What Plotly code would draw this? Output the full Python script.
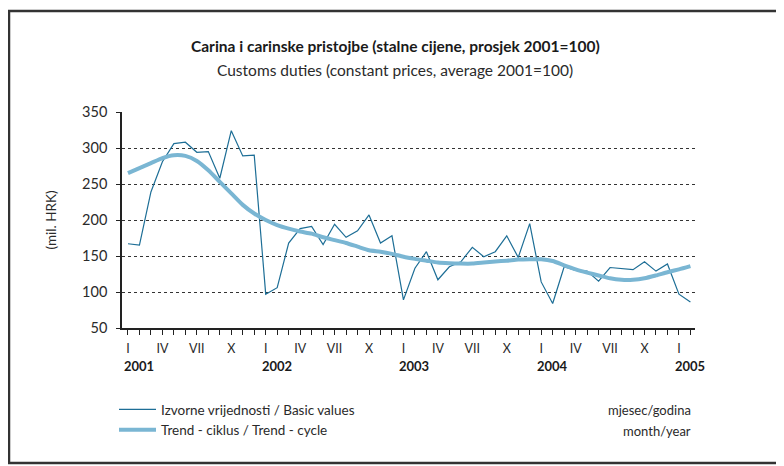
import plotly.graph_objects as go

# Months Jan 2001 .. Feb 2005 (50 points), index positions on x axis
basic_values = [
    167, 165, 239, 281, 306, 308, 294, 295, 258, 324, 289, 290,   # 2001
    97, 106, 168, 188, 191, 166, 194, 176, 185, 207, 168, 178,    # 2002
    89, 133, 156, 117, 135, 142, 162, 149, 156, 178, 148, 195,    # 2003
    114, 84, 135, 130, 129, 115, 134, 133, 131, 142, 129, 139,    # 2004
    97, 86,                                                        # 2005
]
trend_cycle = [
    265, 272, 279, 286, 290, 289, 282, 269, 253, 237, 221, 209,   # 2001
    200, 193, 188, 184, 181, 176, 172, 168, 163, 158, 156, 153,   # 2002
    149, 146, 143.5, 141, 140, 139.5, 139.5, 141, 142.5, 143.5, 145, 145.5,  # 2003
    145.5, 143, 137, 131.5, 127, 123, 119, 117, 117, 119, 123, 127.5,       # 2004
    131.5, 136,                                                    # 2005
]
month_labels = ["I", "", "", "IV", "", "", "VII", "", "", "X", "", ""]
year_labels = ["2001", "2002", "2003", "2004", "2005"]
y_ticks = [50, 100, 150, 200, 250, 300, 350]

n = len(basic_values)
x = list(range(n))
ticktext = [month_labels[i % 12] for i in range(n)]

FONT = "Lato, 'Open Sans', sans-serif"
TXT = "#2a2a2a"

fig = go.Figure()
fig.add_trace(go.Scatter(
    x=x, y=basic_values, mode="lines",
    name="Izvorne vrijednosti / Basic values",
    line=dict(color="#1d6e96", width=1.2),
))
fig.add_trace(go.Scatter(
    x=x, y=trend_cycle, mode="lines",
    name="Trend - ciklus / Trend - cycle",
    line=dict(color="#7ab6d3", width=4, shape="spline", smoothing=0.6),
))

# page body margin offsets the figure by 8px; work in window pixels
OFF = 8
W, H = 784 - OFF, 466 - OFF
L, R, T, B = 122, 695, 112, 328   # plot area in window pixels
pw, ph = R - L, B - T

def px_x(p):
    return (p - L) / pw

def px_y(p):
    return (B - p) / ph

annotations = [
    dict(text="<b>Carina i carinske pristojbe (stalne cijene, prosjek 2001=100)</b>",
         xref="paper", yref="paper", x=px_x(395), y=px_y(46), showarrow=False,
         xanchor="center", yanchor="middle",
         font=dict(size=15.5, color="#1a1a1a", family=FONT)),
    dict(text="Customs duties (constant prices, average 2001=100)",
         xref="paper", yref="paper", x=px_x(395), y=px_y(70), showarrow=False,
         xanchor="center", yanchor="middle",
         font=dict(size=15.5, color=TXT, family=FONT)),
    dict(text="mjesec/godina", xref="paper", yref="paper", x=px_x(693), y=px_y(410),
         xanchor="right", yanchor="middle", showarrow=False,
         font=dict(size=13, color=TXT, family=FONT)),
    dict(text="month/year", xref="paper", yref="paper", x=px_x(693), y=px_y(431),
         xanchor="right", yanchor="middle", showarrow=False,
         font=dict(size=13, color=TXT, family=FONT)),
]
for i, yl in enumerate(year_labels):
    annotations.append(dict(
        text="<b>" + yl + "</b>", xref="x", yref="paper", x=i * 12, y=px_y(366),
        xanchor="left", yanchor="middle", xshift=-6, showarrow=False,
        font=dict(size=13, color="#1a1a1a", family=FONT),
    ))

fig.update_layout(
    width=W, height=H,
    margin=dict(l=L - OFF, r=W - (R - OFF), t=T - OFF, b=H - (B - OFF), pad=0),
    paper_bgcolor="white", plot_bgcolor="white",
    font=dict(family=FONT, color=TXT),
    showlegend=True,
    legend=dict(x=px_x(114), y=px_y(394), xanchor="left", yanchor="top",
                bgcolor="rgba(0,0,0,0)", font=dict(size=13.5, color=TXT, family=FONT),
                tracegroupgap=0, itemwidth=37),
    annotations=annotations,
    shapes=[dict(type="rect", xref="paper", yref="paper",
                 x0=px_x(9), x1=px_x(779), y0=px_y(463), y1=px_y(11),
                 line=dict(color="#333333", width=2.5), layer="below")],
)
fig.update_xaxes(
    range=[-0.52, 49.4], tickmode="array", tickvals=x, ticktext=ticktext,
    ticks="outside", ticklen=5, tickcolor="#222", tickwidth=1,
    showline=True, linecolor="#222", linewidth=1.5, showgrid=False, zeroline=False,
    tickfont=dict(size=12.5, color=TXT, family=FONT), ticklabelstandoff=3,
)
fig.update_yaxes(
    range=[50, 350], tickvals=y_ticks, ticks="outside", ticklen=4,
    tickcolor="#222", showline=True, linecolor="#222", linewidth=1.5,
    showgrid=True, gridcolor="#333", gridwidth=1, griddash="3px,3px",
    zeroline=False, tickfont=dict(size=14.5, color=TXT, family=FONT),
    ticklabelstandoff=6,
    title=dict(text="(mil. HRK)", font=dict(size=13.5, color=TXT, family=FONT), standoff=22),
)

fig.write_html("out.html")
